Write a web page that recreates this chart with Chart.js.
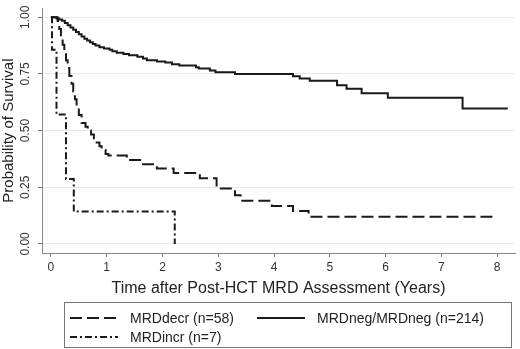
<!DOCTYPE html>
<html>
<head>
<meta charset="utf-8">
<script src="https://cdn.jsdelivr.net/npm/chart.js@4.4.1/dist/chart.umd.min.js"></script>
<style>
  html, body { margin: 0; padding: 0; background: #fff; }
  #wrap { position: relative; width: 520px; height: 349px; }
  #legend {
    position: absolute; left: 64px; top: 302px; width: 446px; height: 44px;
    border: 1px solid #777; font: 14px "Liberation Sans", Arial, sans-serif; color: #222;
  }
  .item { position: absolute; height: 16px; line-height: 16px; white-space: nowrap; }
  .item svg { position: absolute; left: 0; top: 3px; }
  .item span { position: absolute; left: 60px; top: 0; }
</style>
</head>
<body>
<div id="wrap">
  <canvas id="km" width="520" height="349"></canvas>
  <div id="legend"></div>
</div>
<script>
// survival data (time in years, probability)
const negTimes = [0, 0.1, 0.15, 0.2, 0.25, 0.3, 0.35, 0.4, 0.45, 0.5, 0.55, 0.6, 0.65, 0.7, 0.75, 0.8, 0.87, 0.95, 1.05, 1.1, 1.18, 1.3, 1.4, 1.55, 1.65, 1.72, 1.9, 2.05, 2.17, 2.3, 2.6, 2.65, 2.85, 2.95, 3.3, 4.34, 4.46, 4.64, 5.13, 5.3, 5.57, 6.04, 7.38, 8.19];
const negSurv  = [1, 0.995, 0.99, 0.985, 0.975, 0.965, 0.955, 0.945, 0.935, 0.925, 0.915, 0.905, 0.897, 0.89, 0.882, 0.875, 0.868, 0.862, 0.857, 0.85, 0.843, 0.838, 0.832, 0.826, 0.818, 0.81, 0.805, 0.8, 0.793, 0.787, 0.78, 0.774, 0.765, 0.757, 0.75, 0.74, 0.73, 0.72, 0.7, 0.685, 0.665, 0.645, 0.598, 0.598];

const decrTimes = [0, 0.12, 0.15, 0.18, 0.21, 0.24, 0.27, 0.3, 0.33, 0.37, 0.4, 0.43, 0.46, 0.5, 0.55, 0.62, 0.66, 0.72, 0.77, 0.82, 0.87, 0.91, 0.98, 1.03, 1.36, 1.6, 1.9, 2.2, 2.67, 2.97, 3.3, 3.4, 3.96, 4.34, 4.62, 7.99];
const decrSurv  = [1, 0.983, 0.948, 0.914, 0.879, 0.845, 0.81, 0.776, 0.741, 0.707, 0.672, 0.638, 0.603, 0.569, 0.534, 0.517, 0.5, 0.483, 0.466, 0.448, 0.431, 0.414, 0.397, 0.39, 0.37, 0.352, 0.333, 0.313, 0.29, 0.245, 0.215, 0.19, 0.167, 0.145, 0.12, 0.12];

const incrTimes = [0, 0.02, 0.1, 0.27, 0.41, 2.22];
const incrSurv  = [1, 0.857, 0.571, 0.286, 0.143, 0];

const xTicks = [0, 1, 2, 3, 4, 5, 6, 7, 8];
const yTicks = [0, 0.25, 0.5, 0.75, 1];

const seriesNames = ['MRDdecr (n=58)', 'MRDneg/MRDneg (n=214)', 'MRDincr (n=7)'];
const seriesDash = [[12, 5], [], [7, 3, 2, 3]];

const FONT = '"Liberation Sans", Arial, Helvetica, sans-serif';
const INK = '#1a1a1a';

function pts(xs, ys) {
  return xs.map((x, i) => ({ x: x, y: ys[i] }));
}

function curve(label, data, dash) {
  return {
    label: label,
    data: data,
    borderColor: INK,
    borderWidth: 2,
    borderDash: dash,
    stepped: true,
    pointRadius: 0,
    fill: false
  };
}

new Chart(document.getElementById('km'), {
  type: 'line',
  data: {
    datasets: [
      curve(seriesNames[0], pts(decrTimes, decrSurv), seriesDash[0]),
      curve(seriesNames[1], pts(negTimes, negSurv), seriesDash[1]),
      curve(seriesNames[2], pts(incrTimes, incrSurv), seriesDash[2])
    ]
  },
  options: {
    responsive: false,
    animation: false,
    layout: { padding: { top: 5, right: 5, bottom: 51, left: 0 } },
    plugins: { legend: { display: false }, tooltip: { enabled: false } },
    scales: {
      x: {
        type: 'linear',
        min: -0.16,
        max: 8.32,
        afterBuildTicks: s => { s.ticks = xTicks.map(v => ({ value: v })); },
        afterFit: s => { s.height = 45; },
        grid: { drawOnChartArea: false, tickLength: 4, tickColor: '#777' },
        border: { color: '#888', width: 1 },
        ticks: { color: '#333', padding: 3, maxRotation: 0, font: { family: FONT, size: 12 }, callback: v => String(v) },
        title: { display: true, text: 'Time after Post-HCT MRD Assessment (Years)', color: '#222', padding: 0, font: { family: FONT, size: 16 } }
      },
      y: {
        min: -0.04,
        max: 1.04,
        afterBuildTicks: s => { s.ticks = yTicks.map(v => ({ value: v })); },
        afterFit: s => { s.width = 42; },
        grid: { color: '#e8e8e8', lineWidth: 1, tickLength: 4, tickColor: '#777' },
        border: { color: '#888', width: 1 },
        ticks: { color: '#333', padding: 1, minRotation: 90, maxRotation: 90, crossAlign: 'center', font: { family: FONT, size: 12 }, callback: v => v.toFixed(2) },
        title: { display: true, text: 'Probability of Survival', color: '#222', padding: 0, font: { family: FONT, size: 15 } }
      }
    }
  }
});

// legend box below the plot
const legend = document.getElementById('legend');
const slots = [{ left: 5, top: 7 }, { left: 192, top: 7 }, { left: 5, top: 26 }];
seriesNames.forEach((name, i) => {
  const item = document.createElement('div');
  item.className = 'item';
  item.style.left = slots[i].left + 'px';
  item.style.top = slots[i].top + 'px';
  const dash = seriesDash[i].length ? `stroke-dasharray="${seriesDash[i].join(' ')}"` : '';
  item.innerHTML = `<svg width="48" height="10"><line x1="0" y1="5" x2="48" y2="5" stroke="${INK}" stroke-width="2" ${dash}/></svg><span>${name}</span>`;
  legend.appendChild(item);
});
</script>
</body>
</html>
